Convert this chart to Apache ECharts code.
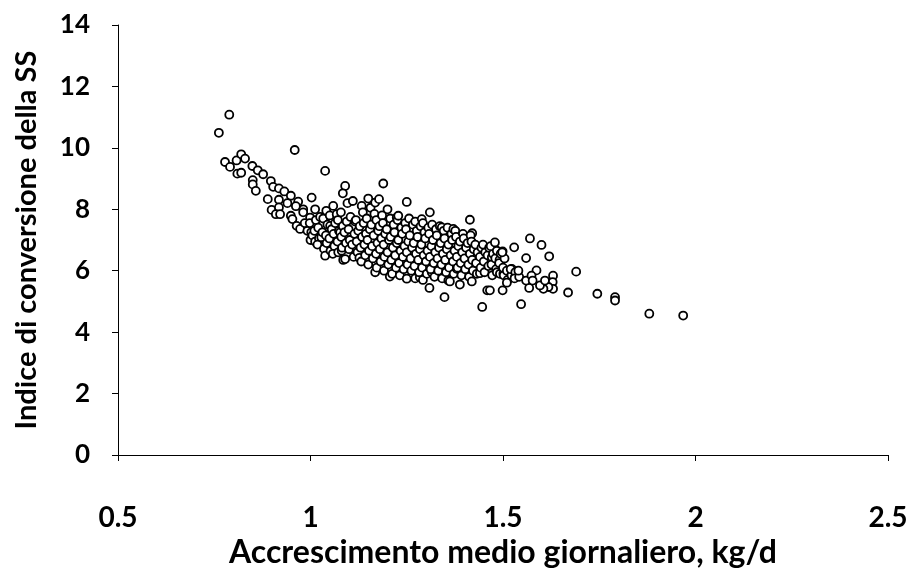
<!DOCTYPE html>
<html>
<head>
<meta charset="utf-8">
<script src="https://cdn.jsdelivr.net/npm/echarts@6/dist/echarts.min.js"></script>
<style>
  html, body { margin: 0; padding: 0; background: #fff; }
  #chart { width: 912px; height: 574px; }
</style>
</head>
<body>
<div id="chart"></div>
<script>
// tick labels
const xTicks = [0.5, 1, 1.5, 2, 2.5];
const yTicks = [0, 2, 4, 6, 8, 10, 12, 14];

// [gain kg/d, conversion index]
const outliers = [
  [0.762, 10.49], [0.789, 11.08], [0.959, 9.93], [1.038, 9.25], [1.189, 8.84],
  [1.090, 8.76], [1.084, 8.52], [1.250, 8.24], [1.414, 7.66]
];

const leftBand = [
  [0.778, 9.54], [0.791, 9.38], [0.808, 9.59], [0.820, 9.79], [0.830, 9.65],
  [0.810, 9.16], [0.820, 9.19], [0.849, 9.41], [0.863, 9.27], [0.877, 9.14],
  [0.850, 8.95], [0.850, 8.81], [0.858, 8.60], [0.897, 8.92], [0.903, 8.73],
  [0.918, 8.68], [0.932, 8.58], [0.949, 8.44], [0.968, 8.25], [0.981, 8.00],
  [0.889, 8.33], [0.918, 8.31], [0.899, 7.98], [0.918, 8.06], [0.910, 7.84],
  [0.921, 7.84], [0.949, 7.79], [0.953, 7.68], [0.964, 7.46], [0.973, 7.36],
  [0.981, 7.90], [1.003, 8.38], [0.999, 7.73], [0.992, 7.30], [1.012, 8.00],
  [0.962, 8.10], [0.940, 8.20], [0.985, 7.55]
];

const mainCloud = [
  [1.000, 7.00], [1.002, 7.25], [0.998, 7.55], [1.005, 7.15], [1.012, 6.95],
  [1.010, 7.30], [1.014, 7.65], [1.022, 7.05], [1.020, 7.40], [1.025, 7.75],
  [1.018, 6.85], [1.028, 7.09], [1.035, 6.71], [1.031, 7.25], [1.033, 7.70],
  [1.038, 6.49], [1.042, 6.90], [1.040, 7.15], [1.044, 7.50], [1.041, 7.95],
  [1.051, 7.46], [1.052, 6.65], [1.049, 7.05], [1.055, 7.35], [1.050, 7.80],
  [1.059, 8.11], [1.062, 6.80], [1.060, 7.20], [1.064, 7.55], [1.058, 6.55],
  [1.068, 7.84], [1.072, 6.60], [1.070, 6.95], [1.074, 7.30], [1.077, 7.25],
  [1.071, 7.65], [1.081, 6.65], [1.082, 6.75], [1.080, 7.10], [1.084, 7.45],
  [1.079, 7.90], [1.085, 6.35], [1.090, 6.38], [1.092, 6.90], [1.088, 7.25],
  [1.094, 7.60], [1.096, 8.20], [1.100, 6.70], [1.102, 7.00], [1.099, 7.35],
  [1.104, 7.75], [1.110, 8.27], [1.112, 6.45], [1.108, 6.85], [1.114, 7.20],
  [1.116, 7.60], [1.122, 6.60], [1.120, 6.95], [1.124, 7.30], [1.118, 7.65],
  [1.127, 6.42], [1.133, 8.11], [1.132, 6.30], [1.130, 6.75], [1.134, 7.10],
  [1.128, 7.45], [1.136, 7.90], [1.142, 6.50], [1.140, 6.85], [1.144, 7.20],
  [1.138, 7.55], [1.150, 8.35], [1.150, 6.20], [1.152, 6.65], [1.148, 7.00],
  [1.154, 7.35], [1.146, 7.70], [1.156, 8.05], [1.162, 6.40], [1.160, 6.80],
  [1.164, 7.15], [1.158, 7.50], [1.166, 7.85], [1.168, 8.22], [1.168, 5.95],
  [1.172, 6.10], [1.170, 6.55], [1.174, 6.90], [1.176, 7.30], [1.171, 7.65],
  [1.178, 8.33], [1.182, 6.30], [1.180, 6.70], [1.184, 7.05], [1.179, 7.45],
  [1.186, 7.80], [1.191, 6.00], [1.192, 6.45], [1.190, 6.85], [1.194, 7.20],
  [1.188, 7.55], [1.200, 8.00], [1.206, 5.81], [1.202, 6.20], [1.200, 6.60],
  [1.204, 7.00], [1.198, 7.35], [1.207, 7.70], [1.212, 5.90], [1.210, 6.35],
  [1.214, 6.75], [1.208, 7.10], [1.216, 7.50], [1.224, 7.73], [1.222, 6.10],
  [1.220, 6.50], [1.224, 6.90], [1.218, 7.25], [1.226, 7.65], [1.228, 7.79],
  [1.232, 5.85], [1.230, 6.25], [1.234, 6.65], [1.228, 7.00], [1.236, 7.40],
  [1.242, 6.05], [1.240, 6.45], [1.244, 6.80], [1.238, 7.20], [1.246, 7.55],
  [1.250, 5.74], [1.252, 6.20], [1.250, 6.60], [1.254, 6.95], [1.248, 7.35],
  [1.256, 7.70], [1.262, 6.00], [1.260, 6.40], [1.264, 6.75], [1.258, 7.15],
  [1.266, 7.50], [1.272, 5.75], [1.270, 6.15], [1.274, 6.55], [1.268, 6.90],
  [1.276, 7.30], [1.272, 7.60], [1.284, 5.79], [1.282, 5.95], [1.280, 6.35],
  [1.284, 6.70], [1.278, 7.10], [1.286, 7.45], [1.289, 7.68], [1.292, 5.70],
  [1.290, 6.10], [1.294, 6.50], [1.288, 6.85], [1.296, 7.25], [1.292, 7.55],
  [1.302, 5.90], [1.300, 6.30], [1.304, 6.65], [1.298, 7.05], [1.306, 7.40],
  [1.310, 7.90], [1.315, 5.95], [1.312, 6.05], [1.310, 6.45], [1.314, 6.80],
  [1.308, 7.20], [1.316, 7.50], [1.309, 5.44], [1.322, 5.80], [1.320, 6.25],
  [1.324, 6.60], [1.318, 7.00], [1.326, 7.35], [1.332, 6.00], [1.330, 6.40],
  [1.334, 6.75], [1.328, 7.15], [1.336, 7.45], [1.341, 7.41], [1.342, 5.75],
  [1.340, 6.20], [1.344, 6.55], [1.338, 6.90], [1.346, 7.30], [1.348, 5.14],
  [1.352, 5.95], [1.350, 6.35], [1.354, 6.70], [1.348, 7.05], [1.356, 7.40],
  [1.358, 5.68], [1.362, 5.65], [1.360, 6.10], [1.364, 6.50], [1.358, 6.85],
  [1.366, 7.20], [1.371, 7.36], [1.372, 5.90], [1.370, 6.30], [1.374, 6.65],
  [1.368, 7.00], [1.376, 7.30], [1.380, 6.06], [1.382, 6.10], [1.380, 6.45],
  [1.384, 6.80], [1.378, 7.10], [1.388, 5.55], [1.392, 5.85], [1.390, 6.25],
  [1.394, 6.60], [1.388, 6.95], [1.396, 7.20], [1.402, 6.05], [1.400, 6.40],
  [1.404, 6.75], [1.398, 7.05], [1.420, 7.22], [1.412, 5.80], [1.410, 6.20],
  [1.414, 6.55], [1.408, 6.90], [1.416, 7.15], [1.419, 5.65], [1.422, 6.00],
  [1.420, 6.35], [1.424, 6.70], [1.418, 6.95], [1.432, 5.90], [1.430, 6.25],
  [1.434, 6.60], [1.428, 6.85], [1.440, 5.92], [1.442, 6.10], [1.440, 6.45],
  [1.444, 6.75], [1.452, 5.95], [1.450, 6.30], [1.454, 6.60], [1.448, 6.85],
  [1.462, 6.15], [1.460, 6.50], [1.464, 6.75], [1.471, 6.44], [1.472, 5.85],
  [1.470, 6.20], [1.474, 6.55], [1.468, 6.80], [1.479, 6.92], [1.482, 6.05],
  [1.480, 6.40], [1.484, 6.65], [1.484, 5.95], [1.491, 6.35], [1.492, 5.90],
  [1.490, 6.25], [1.494, 6.55], [1.499, 6.63], [1.501, 5.90], [1.502, 5.85],
  [1.500, 6.10], [1.504, 6.40], [1.498, 6.60], [1.512, 5.70], [1.510, 6.00],
  [1.523, 6.06], [1.522, 5.85], [1.520, 6.05], [1.531, 5.79], [1.532, 5.95],
  [1.530, 5.75], [1.542, 5.80], [1.540, 6.00], [1.529, 6.76]
];

const rightTail = [
  [1.446, 4.82], [1.459, 5.36], [1.466, 5.36], [1.499, 5.36], [1.510, 5.61],
  [1.547, 4.91], [1.560, 6.41], [1.570, 7.05], [1.600, 6.84], [1.620, 6.47],
  [1.587, 6.01], [1.630, 5.84], [1.629, 5.63], [1.630, 5.41], [1.618, 5.47],
  [1.605, 5.41], [1.596, 5.52], [1.609, 5.68], [1.568, 5.44], [1.560, 5.68],
  [1.574, 5.84], [1.577, 5.68], [1.669, 5.29], [1.690, 5.97], [1.745, 5.25],
  [1.791, 5.14], [1.791, 5.03], [1.880, 4.60], [1.968, 4.54]
];

const points = outliers.concat(leftBand, mainCloud, rightTail);

const chart = echarts.init(document.getElementById("chart"));
const font = "Lato";

const option = {
  backgroundColor: "#ffffff",
  animation: false,
  grid: { left: 118, right: 24, top: 25, bottom: 117 },
  xAxis: {
    type: "value",
    min: xTicks[0],
    max: xTicks[xTicks.length - 1],
    interval: 0.5,
    name: "Accrescimento medio giornaliero, kg/d",
    nameLocation: "middle",
    nameGap: 82,
    nameTextStyle: { fontFamily: font, fontWeight: "bold", fontSize: 32, color: "#000" },
    axisLine: { onZero: false, lineStyle: { color: "#000", width: 1 } },
    axisTick: { show: true, inside: false, length: 6, lineStyle: { color: "#000" } },
    axisLabel: { margin: 49, fontFamily: font, fontWeight: "bold", fontSize: 28, color: "#000" },
    splitLine: { show: false }
  },
  yAxis: {
    type: "value",
    min: yTicks[0],
    max: yTicks[yTicks.length - 1],
    interval: 2,
    name: "Indice di conversione della SS",
    nameLocation: "middle",
    nameGap: 77,
    nameTextStyle: { fontFamily: font, fontWeight: "bold", fontSize: 29, color: "#000" },
    axisLine: { show: true, lineStyle: { color: "#000", width: 1 } },
    axisTick: { show: true, inside: false, length: 6, lineStyle: { color: "#000" } },
    axisLabel: { margin: 28, fontFamily: font, fontWeight: "bold", fontSize: 26, color: "#000" },
    splitLine: { show: false }
  },
  series: [
    {
      type: "scatter",
      data: points,
      symbol: "circle",
      symbolSize: 8,
      itemStyle: { color: "#ffffff", borderColor: "#000000", borderWidth: 1.8, opacity: 1 }
    }
  ]
};

chart.setOption(option);
</script>
</body>
</html>
